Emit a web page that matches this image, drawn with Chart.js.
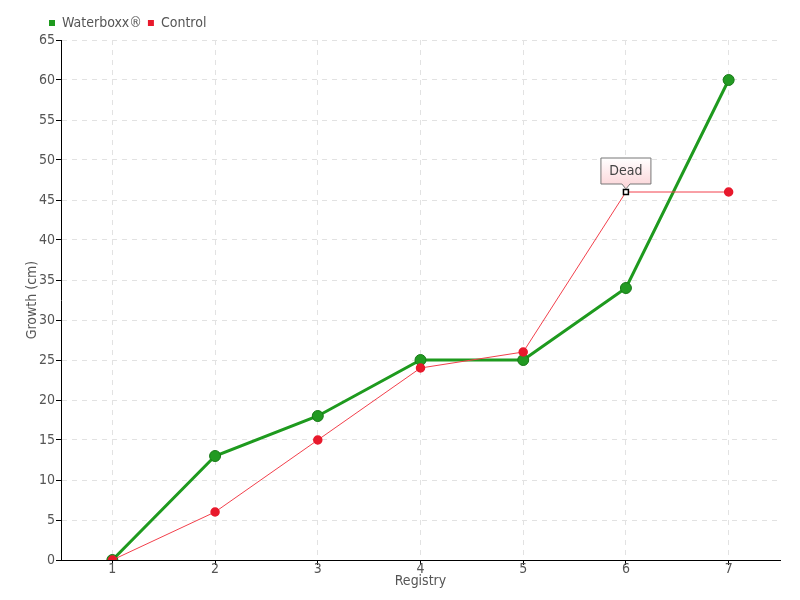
<!DOCTYPE html>
<html>
<head>
<meta charset="utf-8">
<script src="https://cdn.jsdelivr.net/npm/chart.js@4"></script>
<style>
  html, body { margin: 0; padding: 0; background: #fff; }
  #wrap { width: 800px; height: 600px; }
</style>
</head>
<body>
<div id="wrap"><canvas id="growthChart" width="800" height="600"></canvas></div>
<script>
/* Waterboxx vs Control growth chart */

const REGISTRY  = ['1', '2', '3', '4', '5', '6', '7'];
const WATERBOXX = [0, 13, 18, 25, 25, 34, 60];
const CONTROL   = [0, 6, 15, 24, 26, 46, 46];
const DEAD_INDEX = 5;
const DEAD_LABEL = 'Dead';

const FONT = '"Liberation Sans Narrow", "DejaVu Sans Condensed", sans-serif';
const TEXT = '#555';

// square marker on the dead plant
const controlStyle  = CONTROL.map((_, i) => i === DEAD_INDEX ? 'rect' : 'circle');
const controlFill   = CONTROL.map((_, i) => i === DEAD_INDEX ? '#fff' : '#e8192c');
const controlBorder = CONTROL.map((_, i) => i === DEAD_INDEX ? '#000' : '#e8192c');
const controlRadius = CONTROL.map((_, i) => i === DEAD_INDEX ? 3.5 : 4);

const calloutPlugin = {
  id: 'callout',
  afterLayout(chart) {
    // legend sits over the plot, not at the canvas edge
    chart.legend.left += 43;
  },
  afterDatasetsDraw(chart) {
    const ctx = chart.ctx;
    const x = chart.scales.x.getPixelForValue(DEAD_INDEX);
    const y = chart.scales.y.getPixelForValue(CONTROL[DEAD_INDEX]);
    const w = 50, h = 26;
    const left = x - w / 2, top = y - 34, bottom = top + h;
    ctx.save();
    ctx.beginPath();
    ctx.moveTo(left, top);
    ctx.lineTo(left + w, top);
    ctx.lineTo(left + w, bottom);
    ctx.lineTo(x + 4, bottom);
    ctx.lineTo(x, bottom + 5);
    ctx.lineTo(x - 4, bottom);
    ctx.lineTo(left, bottom);
    ctx.closePath();
    const g = ctx.createLinearGradient(0, top, 0, bottom);
    g.addColorStop(0, '#ffffff');
    g.addColorStop(1, '#fcd9dc');
    ctx.fillStyle = g;
    ctx.fill();
    ctx.strokeStyle = '#777';
    ctx.lineWidth = 1;
    ctx.stroke();
    ctx.fillStyle = '#444';
    ctx.font = '14px ' + FONT;
    ctx.textAlign = 'center';
    ctx.textBaseline = 'middle';
    ctx.fillText(DEAD_LABEL, x, top + h / 2);
    ctx.restore();
  }
};

new Chart(document.getElementById('growthChart'), {
  type: 'line',
  data: {
    labels: REGISTRY,
    datasets: [
      { label: 'Waterboxx®', data: WATERBOXX, borderColor: '#1e9a1e', backgroundColor: '#1e9a1e',
        borderWidth: 3, pointRadius: 5.5, pointBackgroundColor: '#229a22', pointBorderColor: '#177a17',
        pointBorderWidth: 1, tension: 0, order: 2 },
      { label: 'Control', data: CONTROL, borderColor: '#f2404c', backgroundColor: '#e8192c',
        borderWidth: 1, pointStyle: controlStyle, pointRadius: controlRadius,
        pointBackgroundColor: controlFill, pointBorderColor: controlBorder, pointBorderWidth: 1.5,
        tension: 0, order: 1 }
    ]
  },
  options: {
    responsive: false, animation: false,
    layout: { padding: { left: 0, right: 20, top: 10, bottom: 0 } },
    plugins: {
      tooltip: { enabled: false },
      legend: {
        position: 'top', align: 'start',
        labels: {
          sort: (a, b) => a.datasetIndex - b.datasetIndex,
          boxWidth: 6, boxHeight: 6, padding: 6, color: TEXT,
          font: { family: FONT, size: 14 },
          generateLabels: chart => chart.data.datasets.map((d, i) => ({
            text: d.label, fillStyle: d.backgroundColor, strokeStyle: d.backgroundColor,
            lineWidth: 0, datasetIndex: i, fontColor: TEXT
          }))
        }
      }
    },
    scales: {
      x: {
        offset: true,
        grid: { offset: false, color: '#e2e2e2', drawTicks: true, tickLength: 5, tickColor: '#000', tickWidth: 1 },
        border: { color: '#000', width: 1, dash: [5, 5] },
        ticks: { color: TEXT, font: { family: FONT, size: 14 }, padding: -4 },
        title: { display: true, text: 'Registry', color: TEXT, font: { family: FONT, size: 14 }, padding: { top: 0, bottom: 10 } },
        afterFit: s => { s.height = 40; }
      },
      y: {
        min: 0, max: 65,
        grid: { color: '#e2e2e2', drawTicks: true, tickLength: 5, tickColor: '#000', tickWidth: 1 },
        border: { color: '#000', width: 1, dash: [5, 5] },
        ticks: { stepSize: 5, color: TEXT, font: { family: FONT, size: 14 }, padding: 1 },
        title: { display: true, text: 'Growth (cm)', color: TEXT, font: { family: FONT, size: 14 }, padding: { top: 24, bottom: 0 } },
        afterFit: s => { s.width = 61; }
      }
    }
  },
  plugins: [calloutPlugin]
});
</script>
</body>
</html>
